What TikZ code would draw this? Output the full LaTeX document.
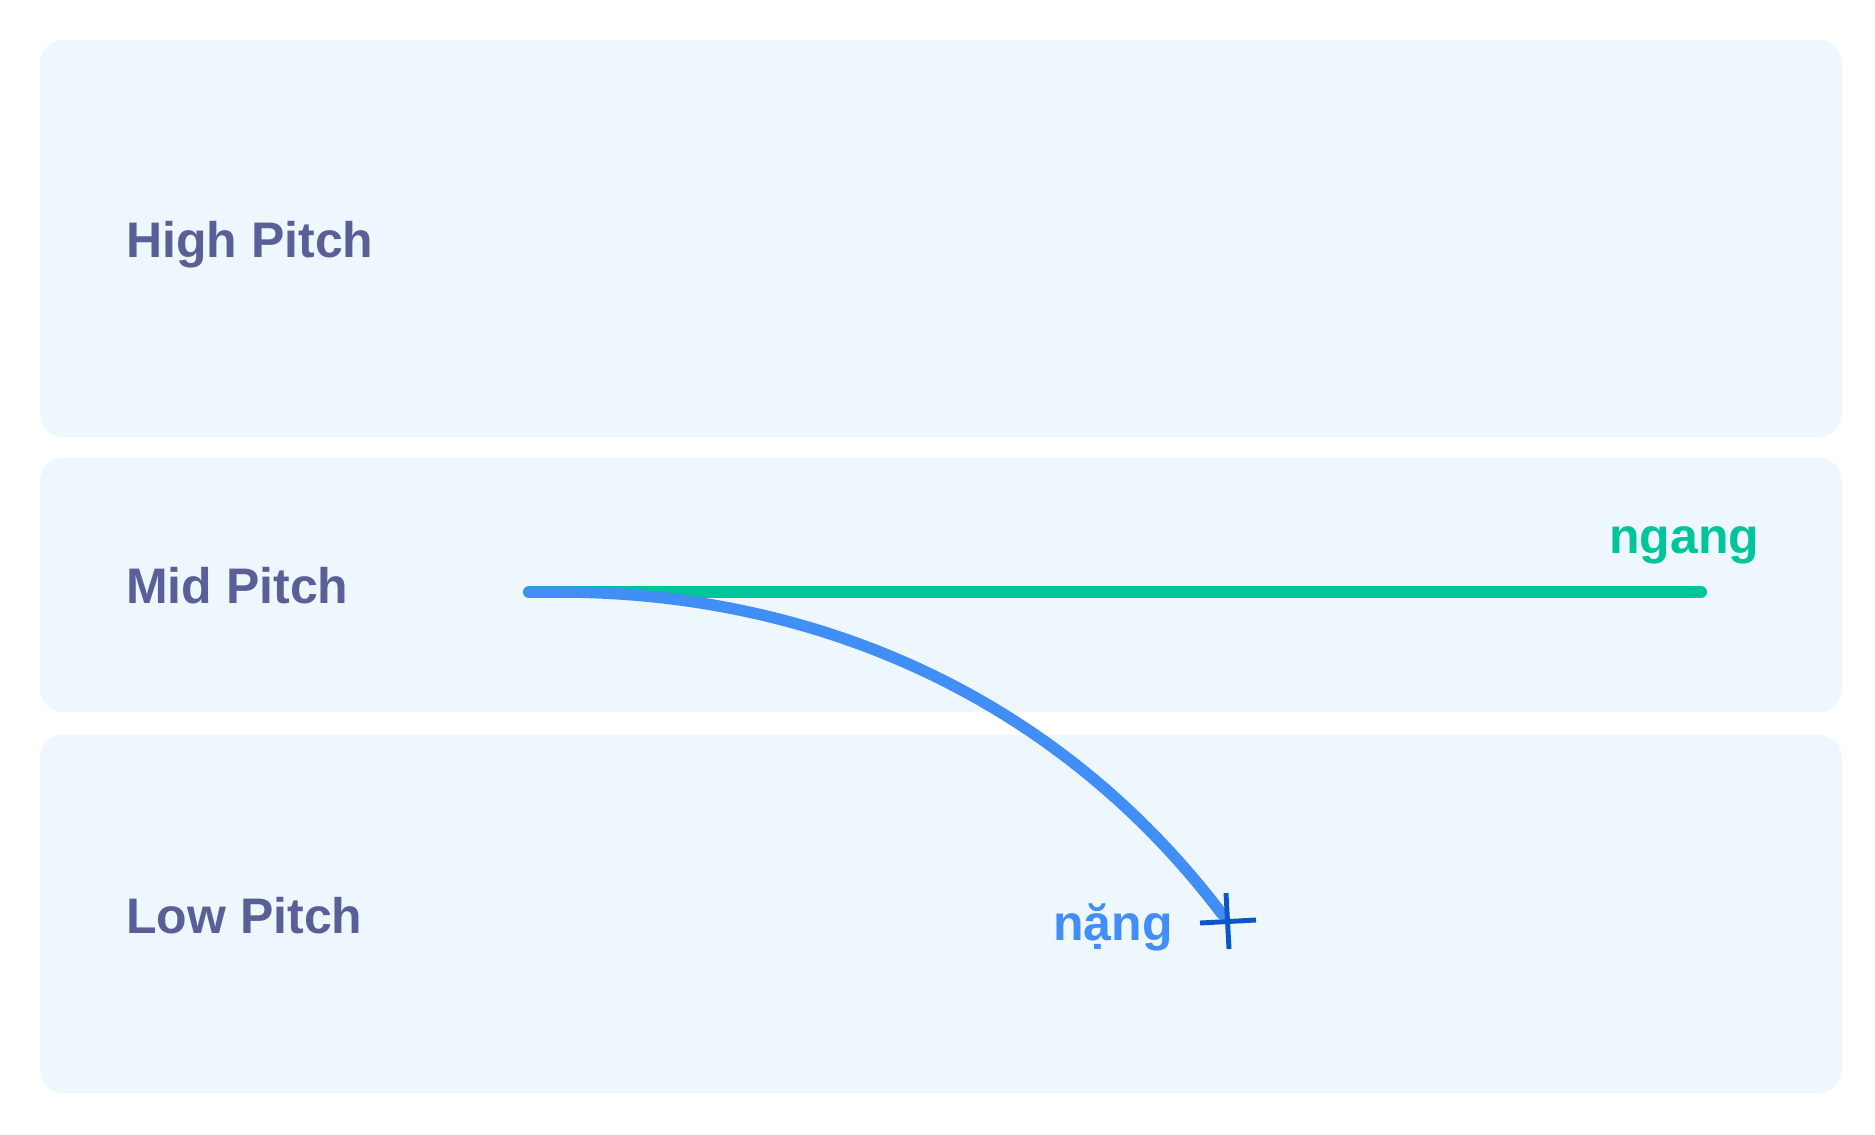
\documentclass[tikz,border=0pt]{standalone}
\usepackage{fontspec}
\setmainfont{Liberation Sans}
\usepackage{tikz}
\usepackage{xcolor}
\definecolor{bandfill}{HTML}{EEF7FE}
\definecolor{pitchtext}{HTML}{5B5F97}
\definecolor{nganggreen}{HTML}{00C49A}
\definecolor{nangblue}{HTML}{428EF7}
\definecolor{crossblue}{HTML}{0A55C8}
\tikzset{
  band/.style={fill=bandfill,rounded corners=13pt},
  pitch/.style={anchor=base west,text=pitchtext,font=\bfseries\fontsize{28.45}{34}\selectfont,inner sep=0pt},
  tone/.style={anchor=base west,font=\bfseries\fontsize{28.45}{34}\selectfont,inner sep=0pt},
}

\begin{document}
\begin{tikzpicture}[x=0.02cm,y=-0.02cm]
\useasboundingbox (0,0) rectangle (1875,1134);
\fill [band](40,40) rectangle (1842,437);
\fill [band](40,458) rectangle (1842,712);
\fill [band](40,735) rectangle (1842,1093);
\node (high) at (126,257) [pitch]{High Pitch};
\node (mid) at (126,603) [pitch]{Mid Pitch};
\node (low) at (126,933) [pitch]{Low Pitch};
\coordinate (start) at (529,592);
\coordinate (ngangend) at (1701,592);
\coordinate (nangend) at (1222,914);
\coordinate (cross) at (1228,921);
\draw [nganggreen,line width=6.8pt,line cap=round](start)--(ngangend);
\draw [nangblue,line width=6.5pt,line cap=round](start)--++(30,0)
  .. controls (820,592) and (1060,700) .. (nangend);
\draw [crossblue,line width=2.8pt](1200,923)--(1256,920);
\draw [crossblue,line width=2.8pt](1226,893)--(1229,949);
\node (ngang) at (1609,553) [tone,text=nganggreen]{ngang};
\node (nang) at (1053,940) [tone,text=nangblue]{nặng};
\end{tikzpicture}
\end{document}
